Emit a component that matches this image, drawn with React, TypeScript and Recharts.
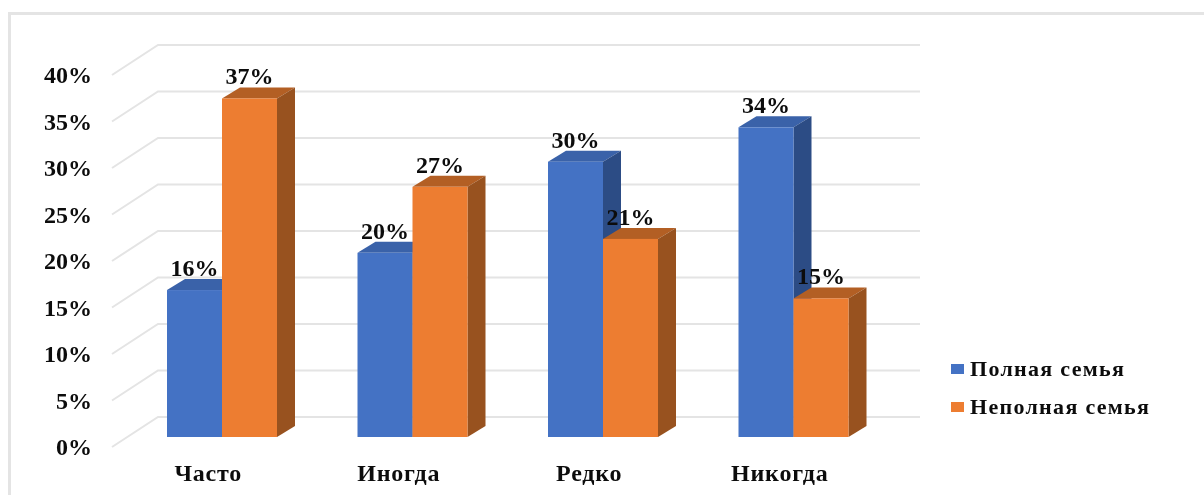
import { BarChart, Bar, XAxis, YAxis, CartesianGrid, LabelList, Legend } from 'recharts';

const categories = ['Часто', 'Иногда', 'Редко', 'Никогда'];
// bar heights as read against the gridlines
const fullFamily = [15.8, 19.8, 29.6, 33.3];
const singleParent = [36.4, 26.9, 21.3, 14.9];
// printed data labels
const fullFamilyLabels = [16, 20, 30, 34];
const singleParentLabels = [37, 27, 21, 15];
const yTicks = [0, 5, 10, 15, 20, 25, 30, 35, 40];

const seriesNames = ['Полная семья', 'Неполная семья'];

const data = categories.map((name, i) => ({
  name,
  full: fullFamily[i],
  single: singleParent[i],
  fullLabel: fullFamilyLabels[i],
  singleLabel: singleParentLabels[i],
}));

const FONT = '"Liberation Serif", serif';
const TEXT = '#0c0c0c';
const DEPTH_X = 18;
const DEPTH_Y = 11;

const Bar3D = ({ x, y, width, height, fill, topFill, sideFill }: any) => (
  <g>
    <path
      d={`M${x},${y} l${DEPTH_X},${-DEPTH_Y} h${width} l${-DEPTH_X},${DEPTH_Y} z`}
      fill={topFill}
    />
    <path
      d={`M${x + width},${y} l${DEPTH_X},${-DEPTH_Y} v${height} l${-DEPTH_X},${DEPTH_Y} z`}
      fill={sideFill}
    />
    <rect x={x} y={y} width={width} height={height} fill={fill} />
  </g>
);

// back wall line plus the diagonal running out to the tick label
const GridLine3D = ({ x2, y1 }: any) => (
  <path
    d={`M112,${y1 + 10} L158,${y1 - 20} H${x2 + 31}`}
    fill="none"
    stroke="#e4e4e4"
    strokeWidth={2}
  />
);

const YTick = ({ y, payload }: any) => (
  <text x={92} y={y + 18} textAnchor="end" fontFamily={FONT} fontWeight="bold" fontSize={24} fill={TEXT}>
    {payload.value}%
  </text>
);

const XTick = ({ x, payload }: any) => (
  <text x={x - 14} y={481} textAnchor="middle" fontFamily={FONT} fontWeight="bold" fontSize={24} fill={TEXT} letterSpacing={0.8}>
    {payload.value}
  </text>
);

const LegendBox = () => (
  <div style={{ fontFamily: FONT, fontWeight: 'bold', fontSize: 22, color: TEXT, letterSpacing: 1.3 }}>
    {seriesNames.map((name, i) => (
      <div key={name} style={{ display: 'flex', alignItems: 'center', height: 38 }}>
        <span style={{ width: 13, height: 10, marginRight: 6, background: i === 0 ? '#4472c4' : '#ed7d31' }} />
        {name}
      </div>
    ))}
  </div>
);

const labelProps = {
  position: 'top' as const,
  offset: 14,
  formatter: (v: any) => `${v}%`,
  fontFamily: FONT,
  fontWeight: 'bold',
  fontSize: 24,
  fill: TEXT,
};

export default function App() {
  return (
    <div style={{ position: 'absolute', left: 0, top: 0, width: 1204, height: 495, background: '#fff', overflow: 'hidden', filter: 'blur(0.4px)' }}>
      <div style={{ position: 'absolute', left: 8, top: 12, width: 1210, height: 500, border: '3px solid #e4e4e4', boxSizing: 'border-box' }} />
      <div style={{ position: 'absolute', left: 0, top: 0 }}>
        <BarChart
          width={1204}
          height={495}
          data={data}
          barSize={55}
          barGap={0}
          margin={{ top: 65, right: 75, bottom: 0, left: 87 }}
        >
          <CartesianGrid vertical={false} syncWithTicks horizontal={(props: any) => <GridLine3D key={props.key} {...props} />} />
          <XAxis dataKey="name" axisLine={false} tickLine={false} tick={<XTick />} height={58} interval={0} />
          <YAxis domain={[0, 40]} ticks={yTicks} interval={0} axisLine={false} tickLine={false} tick={<YTick />} width={40} />
          <Legend
            layout="vertical"
            align="right"
            verticalAlign="middle"
            content={<LegendBox />}
            wrapperStyle={{ position: 'absolute', left: 951, top: 350, width: 240, bottom: 'auto', right: 'auto' }}
          />
          <Bar
            dataKey="full"
            name={seriesNames[0]}
            isAnimationActive={false}
            shape={(p: any) => <Bar3D {...p} fill="#4472c4" topFill="#3a62a9" sideFill="#2c4c85" />}
          >
            <LabelList dataKey="fullLabel" {...labelProps} />
          </Bar>
          <Bar
            dataKey="single"
            name={seriesNames[1]}
            isAnimationActive={false}
            shape={(p: any) => <Bar3D {...p} fill="#ed7d31" topFill="#b35f24" sideFill="#98521f" />}
          >
            <LabelList dataKey="singleLabel" {...labelProps} />
          </Bar>
        </BarChart>
      </div>
    </div>
  );
}
